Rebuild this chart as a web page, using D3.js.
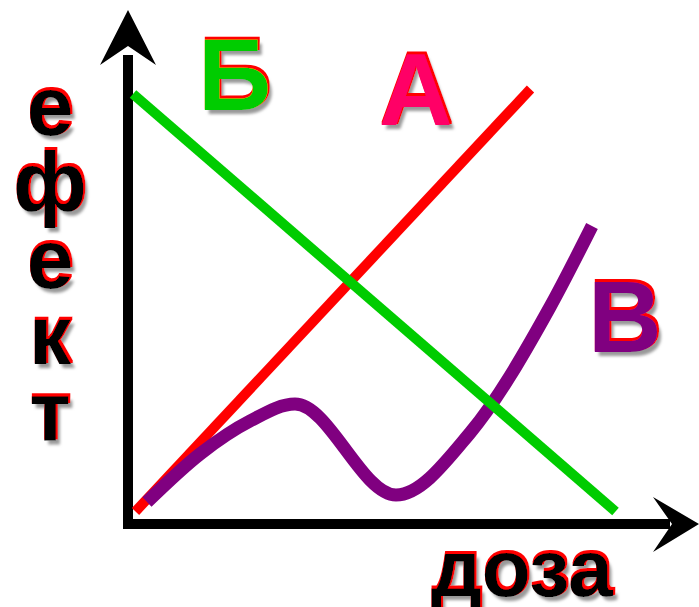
<!DOCTYPE html>
<html>
<head>
<meta charset="utf-8">
<script src="https://cdn.jsdelivr.net/npm/d3@7"></script>
<style>
  html, body { margin: 0; padding: 0; background: #fff; }
  svg { display: block; }
</style>
</head>
<body>
<svg id="graph"></svg>
<script>
const width = 699;
const height = 607;

// data (chart units 0..100 on both axes)
const yTitle = ["е", "ф", "е", "к", "т"];
const xTitle = "доза";
const seriesNames = ["А", "Б", "В"];
const lineA = [[1.5, 2.5], [80.5, 87]];
const lineB = [[1, 86], [97.5, 2.5]];
const curveV = [
  [3.8, 4.4], [14.4, 14], [24.4, 20.6], [33.4, 24],
  [53.6, 5.8], [68.4, 18.2], [84.4, 43.4], [92.8, 59.6]
];

let svg = d3.select('#graph')
  .attr('width', width)
  .attr('height', height)
  .style('background-color', 'white');

let x = d3.scaleLinear().domain([0, 100]).range([128, 628]);
let y = d3.scaleLinear().domain([0, 100]).range([524, 24]);

// text effect: grey blurred shadow + thin red edge shifted up
let f = svg.append("defs").append("filter").attr("id", "fx")
  .attr("x", "-20%").attr("y", "-20%").attr("width", "140%").attr("height", "140%");
f.append("feOffset").attr("in", "SourceAlpha").attr("dx", 4).attr("dy", 4).attr("result", "o1");
f.append("feGaussianBlur").attr("in", "o1").attr("stdDeviation", 1.5).attr("result", "b1");
f.append("feFlood").attr("flood-color", "#999").attr("result", "c1");
f.append("feComposite").attr("in", "c1").attr("in2", "b1").attr("operator", "in").attr("result", "sh");
f.append("feOffset").attr("in", "SourceAlpha").attr("dx", 1).attr("dy", -2).attr("result", "o2");
f.append("feMorphology").attr("in", "o2").attr("operator", "dilate").attr("radius", 0.6).attr("result", "d2");
f.append("feFlood").attr("flood-color", "#ff0000").attr("result", "c2");
f.append("feComposite").attr("in", "c2").attr("in2", "d2").attr("operator", "in").attr("result", "rd");
let m = f.append("feMerge");
m.append("feMergeNode").attr("in", "sh");
m.append("feMergeNode").attr("in", "rd");
m.append("feMergeNode").attr("in", "SourceGraphic");

////axes
svg.append("path")
  .attr("d", `M${x(0)},55 L${x(0)},${y(0)} L670,${y(0)}`)
  .attr("fill", "none")
  .attr("stroke", "black")
  .attr("stroke-width", 10)
  .attr("stroke-linejoin", "miter");

// arrow heads
svg.append("path")
  .attr("d", `M${x(0)},10 L156,65 L${x(0)},46 L100,65 Z`)
  .attr("fill", "black");
svg.append("path")
  .attr("d", `M699,${y(0)} L653,497 L672,${y(0)} L653,552 Z`)
  .attr("fill", "black");

let line = d3.line()
  .x(d => x(d[0]))
  .y(d => y(d[1]));

////curves
svg.append("path").datum(lineA)
  .attr("d", line)
  .attr("stroke", "#ff0000")
  .attr("stroke-width", 10)
  .attr("fill", "none");

svg.append("path").datum(curveV)
  .attr("d", d3.line().x(d => x(d[0])).y(d => y(d[1])).curve(d3.curveMonotoneX))
  .attr("stroke", "#800080")
  .attr("stroke-width", 13)
  .attr("fill", "none");

svg.append("path").datum(lineB)
  .attr("d", line)
  .attr("stroke", "#00cc00")
  .attr("stroke-width", 10)
  .attr("fill", "none");

////labels
function label(txt, px, py, size, color, anchor) {
  svg.append("text")
    .attr("x", px).attr("y", py)
    .style("font-family", "'Liberation Sans', Arial, sans-serif")
    .style("font-weight", "bold")
    .style("font-size", size + "px")
    .attr("text-anchor", anchor || "start")
    .attr("fill", color)
    .attr("filter", "url(#fx)")
    .text(txt);
}

label(seriesNames[1], 198, 110, 102, "#00cc00");
label(seriesNames[0], 379, 125, 102, "#ff0066");
label(seriesNames[2], 588, 352, 102, "#800080");

yTitle.forEach((c, i) => {
  label(c, 50, 135 + i * 76.3, 84, "black", "middle");
});

label(xTitle, 431, 596, 80, "black");
</script>
</body>
</html>
